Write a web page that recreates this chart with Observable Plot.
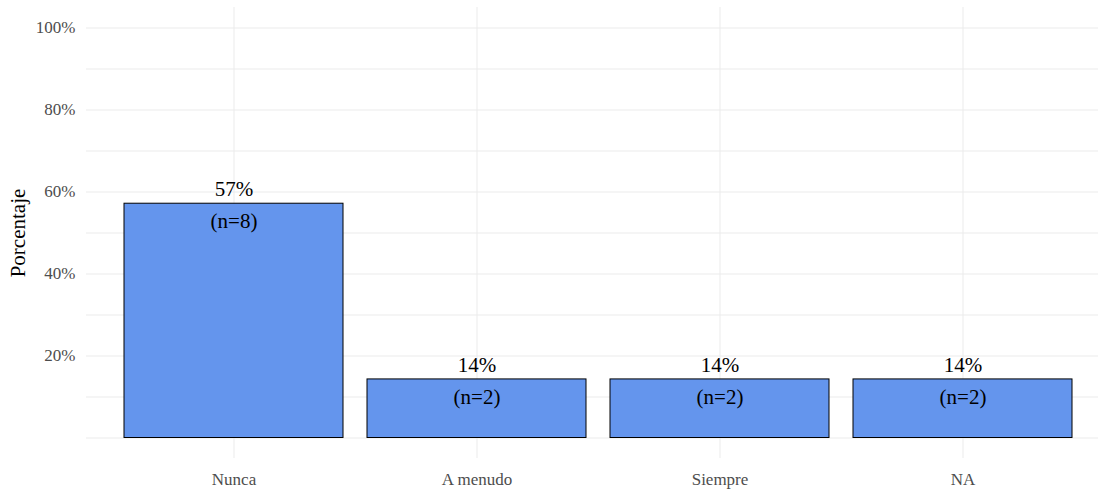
<!DOCTYPE html>
<html><head><meta charset="utf-8">
<script src="https://cdn.jsdelivr.net/npm/d3@7"></script>
<script src="https://cdn.jsdelivr.net/npm/@observablehq/plot@0.6"></script>
<style>
body{margin:0;background:#fff;}
#chart svg{display:block;}
</style>
</head><body><div id="chart"></div>
<script>
const categories = ["Nunca", "A menudo", "Siempre", "NA"];
const counts = [8, 2, 2, 2];
const yTicks = [20, 40, 60, 80, 100];
const gridValues = [0, 10, 20, 30, 40, 50, 60, 70, 80, 90, 100];

const total = d3.sum(counts);
const data = categories.map((c, i) => ({cat: c, n: counts[i], pct: counts[i] / total * 100}));
const font = "'Liberation Serif', 'Times New Roman', serif";

const chart = Plot.plot({
  width: 1098,
  height: 491,
  marginLeft: 86,
  marginRight: -11,
  marginTop: 7,
  marginBottom: 33,
  style: {fontFamily: font, background: "#fff"},
  x: {domain: categories, paddingInner: 0.1, paddingOuter: 0.15, label: null},
  y: {domain: [-5, 105], label: null},
  marks: [
    Plot.ruleY(gridValues, {stroke: "#ebebeb", strokeWidth: 1}),
    Plot.ruleX(categories, {x: d => d, stroke: "#ebebeb", strokeWidth: 1}),
    Plot.barY(data, {x: "cat", y1: 0, y2: "pct", fill: "#6495ED", stroke: "#000", strokeWidth: 1}),
    Plot.text(data, {x: "cat", y: "pct", text: d => Math.round(d.pct) + "%", dy: -14, fontSize: 21, fill: "#000", lineAnchor: "middle"}),
    Plot.text(data, {x: "cat", y: "pct", text: d => "(n=" + d.n + ")", dy: 18, fontSize: 21, fill: "#000", lineAnchor: "middle"}),
    Plot.axisY(yTicks, {tickSize: 0, tickPadding: 11, tickFormat: d => d + "%", fontSize: 17, fill: "#4d4d4d", label: null}),
    Plot.axisX({tickSize: 0, tickPadding: 14, fontSize: 17, fill: "#4d4d4d", label: null}),
    Plot.text(["Porcentaje"], {frameAnchor: "left", textAnchor: "middle", lineAnchor: "middle", dx: -68, rotate: -90, fontSize: 21, fill: "#000", text: d => d})
  ]
});
document.getElementById("chart").appendChild(chart);
</script>
</body></html>
